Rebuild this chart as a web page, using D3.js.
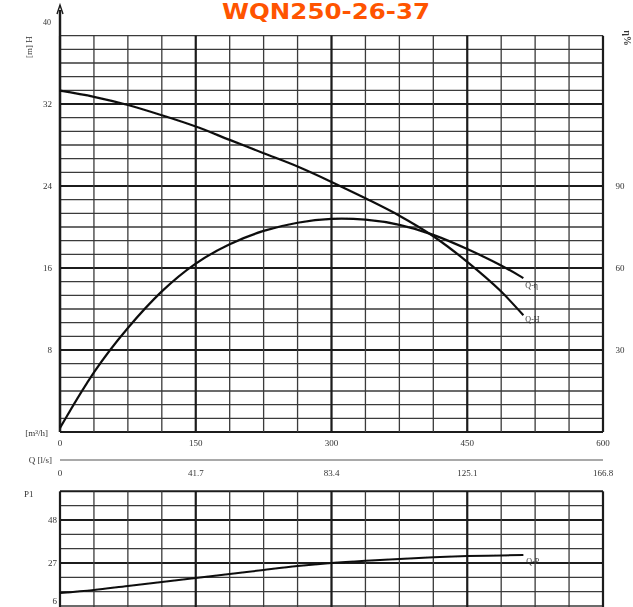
<!DOCTYPE html>
<html>
<head>
<meta charset="utf-8">
<script src="https://cdn.jsdelivr.net/npm/d3@7/dist/d3.min.js"></script>
<style>
  html, body { margin: 0; padding: 0; background: #fff; }
  svg { display: block; }
</style>
</head>
<body>
<svg id="chart" width="633" height="607"></svg>
<script>
// Pump performance curves for WQN250-26-37
const title = "WQN250-26-37";

// Flow stations (m³/h)
const flowQ = [0, 37.5, 75, 112.5, 150, 187.5, 225, 262.5, 300, 337.5, 375, 412.5, 450, 487.5, 512];
// Head H (m)
const headH = [33.3, 32.7, 31.9, 30.9, 29.8, 28.5, 27.2, 25.9, 24.4, 22.8, 21.1, 19.1, 16.6, 13.7, 11.4];
// Efficiency η (%)
const effEta = [1.5, 22.7, 38.4, 52, 62.2, 69, 73.9, 76.8, 78.3, 77.9, 76.1, 72.4, 67, 61.1, 56.3];
// Shaft power P (kW)
const powerP = [12.3, 13.8, 15.8, 17.7, 19.7, 21.6, 23.6, 25.5, 27, 28.1, 29, 29.8, 30.4, 30.7, 30.9];

// Axis tick labels
const qTicks = [0, 150, 300, 450, 600];
const qlsTicks = [0, 41.7, 83.4, 125.1, 166.8];
const hTicks = [8, 16, 24, 32, 40];
const etaTicks = [30, 60, 90];
const pTicks = [27, 48, 6];

const svg = d3.select("#chart");

const defs = svg.append("defs");
defs.append("filter").attr("id", "soft")
  .append("feGaussianBlur").attr("stdDeviation", 0.45);

// Scales
const x = d3.scaleLinear().domain([0, 600]).range([60, 603]);
const xls = d3.scaleLinear().domain([0, 166.8]).range([60, 603]);
const yH = d3.scaleLinear().domain([0, 40]).range([432, 22]);
const yEta = d3.scaleLinear().domain([0, 150]).range([432, 22]);
const yP = d3.scaleLinear().domain([6, 48]).range([606, 520]);

const g = svg.append("g").attr("filter", "url(#soft)");
const ink = "#1a1a1a";
const gridInk = "#3a3a3a";
const labelFont = "Liberation Serif, DejaVu Serif, serif";

// --- upper panel grid ---
const hTop = 38.67;
const hStep = 4 / 3;
const hLines = d3.range(0, 30).map(i => i * hStep);
const qLines = d3.range(0, 17).map(i => i * 37.5);

const upper = g.append("g");
upper.selectAll("line.h").data(hLines).join("line")
  .attr("x1", x(0)).attr("x2", x(600))
  .attr("y1", d => yH(d)).attr("y2", d => yH(d))
  .attr("stroke", (d, i) => i % 6 === 0 ? ink : gridInk)
  .attr("stroke-width", (d, i) => i % 6 === 0 ? 2 : 1.3);

upper.selectAll("line.v").data(qLines).join("line")
  .attr("x1", d => x(d)).attr("x2", d => x(d))
  .attr("y1", yH(0)).attr("y2", yH(hTop))
  .attr("stroke", (d, i) => i % 4 === 0 ? ink : gridInk)
  .attr("stroke-width", (d, i) => i % 4 === 0 ? 2.2 : 1.3);

// left H axis with arrow
upper.append("line")
  .attr("x1", x(0)).attr("x2", x(0))
  .attr("y1", yH(0)).attr("y2", 10)
  .attr("stroke", ink).attr("stroke-width", 2.4);
upper.append("path")
  .attr("d", `M${x(0) - 3},14 L${x(0)},5 L${x(0) + 3},14`)
  .attr("fill", "none").attr("stroke", ink).attr("stroke-width", 1.4);

// H tick labels
upper.selectAll("text.ht").data(hTicks).join("text")
  .attr("x", d => d === 40 ? 51 : 52)
  .attr("y", d => yH(d) + 3)
  .attr("text-anchor", "end")
  .attr("font-family", labelFont)
  .attr("font-size", d => d === 40 ? 8 : 9)
  .attr("fill", "#333")
  .text(d => d);

// efficiency tick labels
upper.selectAll("text.et").data(etaTicks).join("text")
  .attr("x", 620).attr("y", d => yEta(d) + 3)
  .attr("text-anchor", "middle")
  .attr("font-family", labelFont).attr("font-size", 9).attr("fill", "#333")
  .text(d => d);

// axis titles
upper.append("text")
  .attr("transform", "translate(32,47) rotate(-90)")
  .attr("text-anchor", "middle")
  .attr("font-family", labelFont).attr("font-size", 9).attr("fill", "#333")
  .text("[m] H");
upper.append("text")
  .attr("transform", "translate(624,38) rotate(90)")
  .attr("text-anchor", "middle")
  .attr("font-family", labelFont).attr("font-size", 10).attr("font-weight", "bold").attr("fill", "#333")
  .text("η%");
upper.append("text")
  .attr("x", 48).attr("y", 436)
  .attr("text-anchor", "end")
  .attr("font-family", labelFont).attr("font-size", 9).attr("fill", "#333")
  .text("[m³/h]");

// Q m³/h tick labels
upper.selectAll("text.qt").data(qTicks).join("text")
  .attr("x", d => x(d)).attr("y", 446)
  .attr("text-anchor", "middle")
  .attr("font-family", labelFont).attr("font-size", 9).attr("fill", "#333")
  .text(d => d);

// Q l/s axis
upper.append("line")
  .attr("x1", x(0)).attr("x2", x(600))
  .attr("y1", 460).attr("y2", 460)
  .attr("stroke", "#555").attr("stroke-width", 1.2);
upper.append("text")
  .attr("x", 52).attr("y", 463)
  .attr("text-anchor", "end")
  .attr("font-family", labelFont).attr("font-size", 9).attr("fill", "#333")
  .text("Q [l/s]");
upper.selectAll("text.qls").data(qlsTicks).join("text")
  .attr("x", d => xls(d)).attr("y", 476)
  .attr("text-anchor", "middle")
  .attr("font-family", labelFont).attr("font-size", 9).attr("fill", "#333")
  .text(d => d);

// curves
const lineH = d3.line().x((d, i) => x(flowQ[i])).y(d => yH(d)).curve(d3.curveMonotoneX);
const lineEta = d3.line().x((d, i) => x(flowQ[i])).y(d => yEta(d)).curve(d3.curveBasis);
const lineP = d3.line().x((d, i) => x(flowQ[i])).y(d => yP(d)).curve(d3.curveMonotoneX);

upper.append("path").attr("d", lineH(headH))
  .attr("fill", "none").attr("stroke", "#111").attr("stroke-width", 2.2);
upper.append("path").attr("d", lineEta(effEta))
  .attr("fill", "none").attr("stroke", "#111").attr("stroke-width", 2.2);

const last = flowQ.length - 1;
upper.append("text")
  .attr("x", x(flowQ[last]) + 2).attr("y", yEta(effEta[last]) + 10)
  .attr("font-family", labelFont).attr("font-size", 8).attr("fill", "#333")
  .text("Q-η");
upper.append("text")
  .attr("x", x(flowQ[last]) + 2).attr("y", yH(headH[last]) + 7)
  .attr("font-family", labelFont).attr("font-size", 8).attr("fill", "#333")
  .text("Q-H");

// --- lower panel ---
const lower = g.append("g");
const pLines = d3.range(0, 9).map(i => 6 + i * 7);
lower.selectAll("line.h").data(pLines).join("line")
  .attr("x1", x(0)).attr("x2", x(600))
  .attr("y1", d => yP(d)).attr("y2", d => yP(d))
  .attr("stroke", d => (d === 27 || d === 48 || d === 62) ? ink : gridInk)
  .attr("stroke-width", d => (d === 27 || d === 48 || d === 62) ? 2 : 1.3);
lower.selectAll("line.v").data(qLines).join("line")
  .attr("x1", d => x(d)).attr("x2", d => x(d))
  .attr("y1", yP(62)).attr("y2", 607)
  .attr("stroke", (d, i) => i % 4 === 0 ? ink : gridInk)
  .attr("stroke-width", (d, i) => i % 4 === 0 ? 2.2 : 1.3);

// power tick labels; the lowest sits just above the page edge
lower.selectAll("text.pt").data(pTicks).join("text")
  .attr("x", 57).attr("y", d => Math.min(yP(d) + 3, 604))
  .attr("text-anchor", "end")
  .attr("font-family", labelFont).attr("font-size", 9).attr("fill", "#333")
  .text(d => d);
lower.append("text")
  .attr("x", 24).attr("y", 497)
  .attr("font-family", labelFont).attr("font-size", 9).attr("fill", "#333")
  .text("P1");

lower.append("path").attr("d", lineP(powerP))
  .attr("fill", "none").attr("stroke", "#111").attr("stroke-width", 2);
lower.append("text")
  .attr("x", x(flowQ[last]) + 3).attr("y", yP(powerP[last]) + 9)
  .attr("font-family", labelFont).attr("font-size", 8).attr("fill", "#333")
  .text("Q-P");

// title
svg.append("text")
  .attr("x", 326).attr("y", 19)
  .attr("text-anchor", "middle")
  .attr("font-family", "DejaVu Sans, Verdana, sans-serif")
  .attr("font-weight", "bold")
  .attr("font-size", 21)
  .attr("textLength", 208)
  .attr("lengthAdjust", "spacingAndGlyphs")
  .attr("fill", "#ff5400")
  .text(title);
</script>
</body>
</html>
